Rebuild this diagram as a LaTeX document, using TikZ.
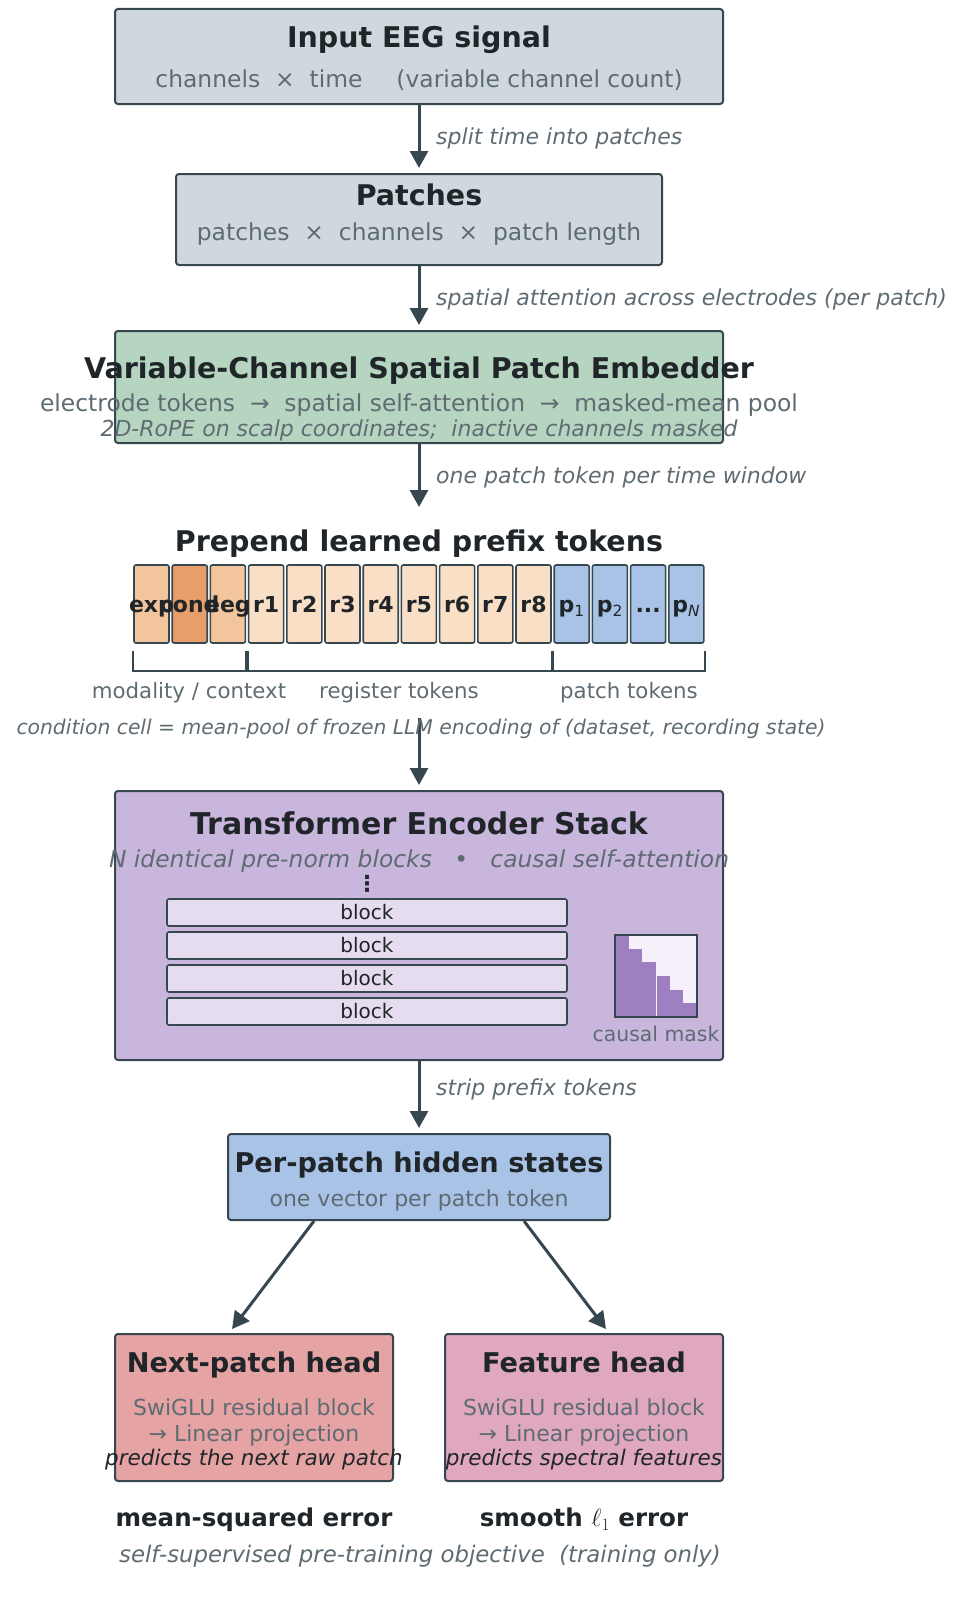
\documentclass[tikz,border=0pt]{standalone}
\usepackage{fontspec}
\setmainfont{DejaVu Sans}
\usetikzlibrary{arrows.meta}

\definecolor{edge}{HTML}{37474F}
\definecolor{ink}{HTML}{1F2529}
\definecolor{muted}{HTML}{5F6B73}
\definecolor{boxgray}{HTML}{CFD8DC}
\definecolor{embgreen}{HTML}{B5D5C0}
\definecolor{encpurple}{HTML}{C8B6DC}
\definecolor{blkfill}{HTML}{E5DCEF}
\definecolor{maskbg}{HTML}{F6F0FA}
\definecolor{maskfg}{HTML}{9E80C2}
\definecolor{hidblue}{HTML}{A8C3E6}
\definecolor{headred}{HTML}{E5A3A3}
\definecolor{headpink}{HTML}{DFA8BF}
\definecolor{tokmid}{HTML}{F3C59D}
\definecolor{tokdark}{HTML}{E89E6A}
\definecolor{toklight}{HTML}{F9DFC6}

\newcommand{\tokdots}{...}

\begin{document}
\begin{tikzpicture}[x=1pt,y=-1pt,
    box/.style={draw=edge,line width=2pt,rounded corners=3pt,inner sep=0pt},
    title/.style={font=\fontsize{28.5}{30}\selectfont\bfseries,text=ink,text height=20.8pt,text depth=0pt,inner sep=0pt},
    bigtitle/.style={title,font=\fontsize{30}{32}\selectfont\bfseries,text height=21.9pt},
    smalltitle/.style={title,font=\fontsize{27.2}{29}\selectfont\bfseries,text height=19.9pt},
    sub/.style={font=\fontsize{22}{24}\selectfont,text=muted,text height=16pt,text depth=0pt,inner sep=0pt},
    bigsub/.style={sub,font=\fontsize{23.4}{25}\selectfont,text height=17pt},
    subit/.style={sub,font=\fontsize{22}{24}\selectfont\itshape},
    note/.style={subit,anchor=west},
    tok/.style={draw=edge,line width=1.6pt,rounded corners=2pt,minimum width=35pt,minimum height=78pt,inner sep=0pt},
    toktext/.style={font=\fontsize{22}{24}\selectfont\bfseries,text=ink,inner sep=0pt,text height=16pt,text depth=0pt},
    blk/.style={draw=edge,fill=blkfill,line width=1.6pt,rounded corners=2pt,minimum width=400pt,minimum height=27pt,
        inner sep=0pt,font=\fontsize{20}{22}\selectfont,text=ink},
    bracket/.style={draw=edge,line width=2pt},
    lbl/.style={font=\fontsize{21.3}{23}\selectfont,text=muted,text height=15.5pt,text depth=0pt,inner sep=0pt},
    flow/.style={-{Triangle[length=17pt,width=18pt]},line width=3pt,draw=edge,shorten >=5pt}]

    \useasboundingbox (0,0) rectangle (976,1611);

    % Input and patching
    \node[box,fill=boxgray,minimum width=608pt,minimum height=95pt] (inp) at (419,56.5) {};
    \node[title] (inpT) at (419,37) {Input EEG signal};
    \node[bigsub] (inpS) at (419,79) {channels~~×~~time\hspace{34pt}(variable channel count)};

    \node[box,fill=boxgray,minimum width=486pt,minimum height=91pt] (pat) at (419,219.5) {};
    \node[title] (patT) at (419,195) {Patches};
    \node[bigsub] (patS) at (419,232) {patches~~×~~channels~~×~~patch length};

    \draw[flow] (inp) -- (pat);
    \node[note] (n1) at (436,136) {split time into patches};

    % Spatial embedder
    \node[box,fill=embgreen,minimum width=608pt,minimum height=112pt] (emb) at (419,387) {};
    \node[title] (embT) at (419,368) {Variable-Channel Spatial Patch Embedder};
    \node[bigsub] (embS) at (419,403) {electrode tokens~~→~~spatial self-attention~~→~~masked-mean pool};
    \node[subit] (embR) at (419,428) {2D-RoPE on scalp coordinates;~~inactive channels masked};

    \draw[flow] (pat) -- (emb);
    \node[note] (n2) at (436,297) {spatial attention across electrodes (per patch)};

    \coordinate (preIn) at (419,512);
    \draw[flow] (emb) -- (preIn);
    \node[note] (n3) at (436,475) {one patch token per time window};

    % Prefix tokens
    \node[title] (preT) at (419,541) {Prepend learned prefix tokens};
    \foreach \col [count=\i] in {tokmid,tokdark,tokmid,toklight,toklight,toklight,toklight,toklight,
        toklight,toklight,toklight,hidblue,hidblue,hidblue,hidblue}
        \node[tok,fill=\col] (t\i) at ({151.5+(\i-1)*38.2},604) {};
    \foreach \lbl [count=\i] in {exp,cond,eeg,r1,r2,r3,r4,r5,r6,r7,r8,{p\textsubscript{\mdseries 1}},
        {p\textsubscript{\mdseries 2}},\tokdots,{p\textsubscript{\mdseries\itshape N}}}
        \node[toktext] (tl\i) at (t\i) {\lbl};

    % Brackets under the groups
    \draw[bracket] ([yshift=-7pt]t1.south west) -- ++(0,20) -| ([yshift=-7pt]t3.south east);
    \draw[bracket] ([yshift=-7pt]t4.south west) -- ++(0,20) -| ([yshift=-7pt]t11.south east);
    \draw[bracket] ([yshift=-7pt]t12.south west) -- ++(0,20) -| ([yshift=-7pt]t15.south east);
    \node[lbl] (modL) at (189,691) {modality / context};
    \node[lbl] (regL) at (399,691) {register tokens};
    \node[lbl] (patL) at (629,691) {patch tokens};

    % Encoder stack
    \node[box,fill=encpurple,minimum width=608pt,minimum height=269pt] (enc) at (419,925.5) {};
    \coordinate (encIn) at (419,718);
    \draw[flow] (encIn) -- (enc);
    \node[lbl,font=\fontsize{20.3}{22}\selectfont\itshape] (condN) at (421,727)
        {condition cell = mean-pool of frozen LLM encoding of (dataset, recording state)};
    \node[bigtitle] (encT) at (419,824) {Transformer Encoder Stack};
    \node[subit,font=\fontsize{23.4}{25}\selectfont\itshape,text height=17pt] (encS) at (419,859)
        {N identical pre-norm blocks~~~•~~~causal self-attention};
    \node[font=\fontsize{22}{24}\selectfont\bfseries,text=ink,inner sep=0pt] (vdots) at (367,884) {⋮};
    \foreach \y [count=\k] in {912.5,945.5,978.5,1011.5}
        \node[blk] (b\k) at (367,\y) {block};

    % Causal mask
    \fill[maskbg] (615,935) rectangle (697,1017);
    \foreach \j in {0,...,5}
        \fill[maskfg] ({615+\j*13.667},{935+\j*13.667}) rectangle ({615+(\j+1)*13.667},1017);
    \draw[maskbg,line width=0.8pt] (656,935) -- (656,1017);
    \draw[edge,line width=2pt] (615,935) rectangle (697,1017);
    \node[lbl,font=\fontsize{20.4}{22}\selectfont] (maskL) at (656,1034) {causal mask};

    % Hidden states and heads
    \node[box,fill=hidblue,minimum width=382pt,minimum height=86pt] (hid) at (419,1177) {};
    \node[smalltitle] (hidT) at (419,1163) {Per-patch hidden states};
    \node[sub] (hidS) at (419,1198) {one vector per patch token};
    \draw[flow] (enc) -- (hid);
    \node[note] (n4) at (436,1087) {strip prefix tokens};

    \node[box,fill=headred,minimum width=278pt,minimum height=147pt] (nph) at (254,1407.5) {};
    \node[smalltitle] (nphT) at (254,1363) {Next-patch head};
    \node[sub] (nph1) at (254,1407) {SwiGLU residual block};
    \node[sub] (nph2) at (254,1433) {→ Linear projection};
    \node[subit,text=ink,font=\fontsize{21.5}{23}\selectfont\itshape] (nph3) at (254,1457) {predicts the next raw patch};

    \node[box,fill=headpink,minimum width=278pt,minimum height=147pt] (fth) at (584,1407.5) {};
    \node[smalltitle] (fthT) at (584,1363) {Feature head};
    \node[sub] (fth1) at (584,1407) {SwiGLU residual block};
    \node[sub] (fth2) at (584,1433) {→ Linear projection};
    \node[subit,text=ink,font=\fontsize{21.5}{23}\selectfont\itshape] (fth3) at (584,1457) {predicts spectral features};

    \draw[flow] ([xshift=87pt]hid.south west) -- ([xshift=115pt]nph.north west);
    \draw[flow] ([xshift=-87pt]hid.south east) -- ([xshift=-115pt]fth.north east);

    % Losses
    \node[title,font=\fontsize{24.5}{26}\selectfont\bfseries] (mse) at (254,1516) {mean-squared error};
    \node[title,font=\fontsize{24.5}{26}\selectfont\bfseries] (sl1) at (584,1516) {smooth $\ell_1$ error};
    \node[subit,font=\fontsize{22.8}{24}\selectfont\itshape] (obj) at (420,1554) {self-supervised pre-training objective~~(training only)};
\end{tikzpicture}
\end{document}
